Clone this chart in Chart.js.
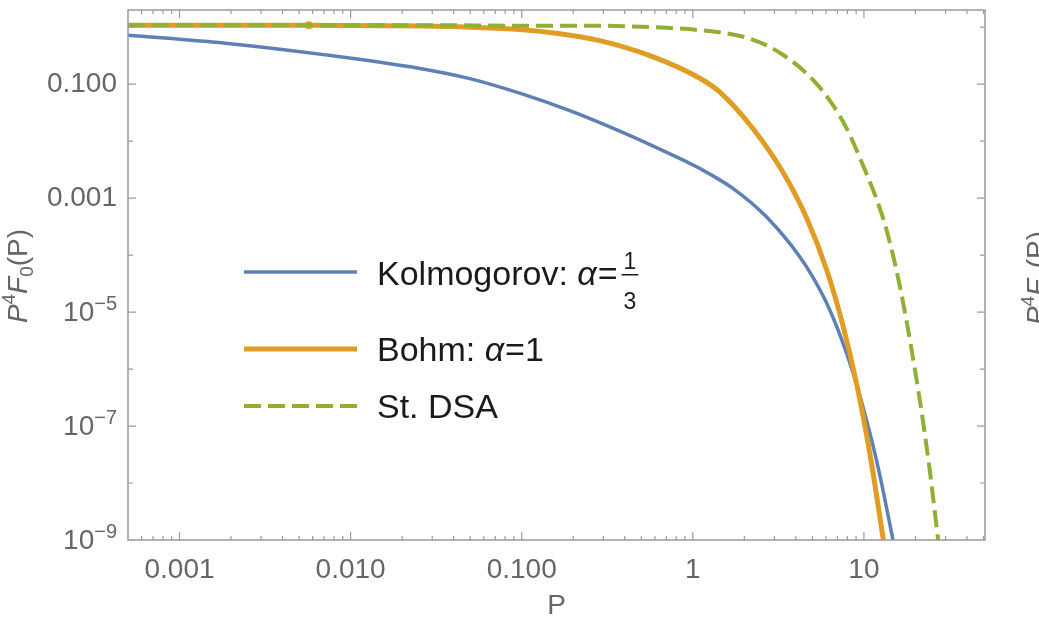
<!DOCTYPE html>
<html>
<head>
<meta charset="utf-8">
<script src="https://cdn.jsdelivr.net/npm/chart.js@4.4.1/dist/chart.umd.min.js"></script>
<style>
  html, body { margin: 0; padding: 0; background: #fff; }
</style>
</head>
<body>
<canvas id="chart" width="1039" height="623"></canvas>
<script>
// values (P, P^4 F0(P))
var kolP  = [0.0005, 0.00191, 0.00733, 0.0254, 0.0497, 0.0973, 0.191, 0.374, 0.641, 1.099, 1.714, 2.709, 4.225, 5.03, 6.08, 7.24, 8.63, 10.28, 12.25, 14.79];
var kolF  = [0.724, 0.518, 0.323, 0.188, 0.125, 0.0695, 0.0343, 0.015, 0.00724, 0.0033, 0.00148, 4.6e-4, 9.29e-5, 4.11e-5, 1.4e-5, 3.98e-6, 8.69e-7, 1.38e-7, 1.6e-8, 1e-9];

var bohmP = [0.0005, 0.00503, 0.0057, 0.0254, 0.0497, 0.0973, 0.167, 0.286, 0.561, 1.099, 1.439, 2.243, 3.357, 4.645, 6.08, 7.53, 9.1, 10.84, 13.0];
var bohmF = [1.084, 1.084, 1.084, 1.05, 1.0, 0.912, 0.769, 0.58, 0.316, 0.127, 0.0724, 0.0167, 0.00288, 4.36e-4, 5.32e-5, 5.91e-6, 5.2e-7, 3.23e-8, 1e-9];

var dsaP  = [0.0005, 0.0254, 0.0973, 0.286, 0.446, 0.705, 1.099, 1.714, 2.153, 2.709, 3.357, 4.225, 5.309, 6.592, 7.96, 10.14, 11.91, 13.66, 16.56, 21.12, 23.99, 27.16];
var dsaF  = [1.084, 1.084, 1.062, 1.062, 1.028, 0.972, 0.885, 0.745, 0.628, 0.478, 0.328, 0.196, 0.1, 0.0428, 0.0163, 0.0031, 9.23e-4, 2.54e-4, 2.07e-5, 3.1e-7, 2.15e-8, 1e-9];

var xTickExp  = [-3, -2, -1, 0, 1];
var xTickText = ['0.001', '0.010', '0.100', '1', '10'];
var yTickExp  = [-1, -3, -5, -7, -9];
var yTickText = ['0.100', '0.001', '', '', ''];
var yTickPow  = ['', '', '\u22125', '\u22127', '\u22129'];

var FONT = '"Liberation Sans", Arial, sans-serif';
var GRAY = '#666';

function pairs(xs, ys) {
  return xs.map(function (v, i) { return { x: v, y: ys[i] }; });
}
function decade(v) {
  var e = Math.log10(v), r = Math.round(e);
  return Math.abs(e - r) < 1e-6 ? r : null;
}
function mantissa(v) {
  var m = v / Math.pow(10, Math.floor(Math.log10(v) + 1e-9));
  return Math.abs(m - Math.round(m)) < 1e-6 ? Math.round(m) : null;
}

function drawRuns(ctx, x, y, runs) {
  runs.forEach(function (r) {
    ctx.font = (r.italic ? 'italic ' : '') + r.size + 'px ' + FONT;
    ctx.fillText(r.t, x, y + (r.dy || 0));
    x += ctx.measureText(r.t).width + (r.gap || 0);
  });
  return x;
}
function runsWidth(ctx, runs) {
  var w = 0;
  runs.forEach(function (r) {
    ctx.font = (r.italic ? 'italic ' : '') + r.size + 'px ' + FONT;
    w += ctx.measureText(r.t).width + (r.gap || 0);
  });
  return w;
}

// frame with inward ticks on all four sides, plus the 10^n labels
var frameTicks = {
  id: 'frameTicks',
  afterDatasetsDraw: function (chart) {
    var ctx = chart.ctx, a = chart.chartArea, x = chart.scales.x, y = chart.scales.y;
    ctx.save();
    ctx.strokeStyle = '#9a9a9a';
    ctx.lineWidth = 1.5;
    ctx.strokeRect(a.left, a.top, a.right - a.left, a.bottom - a.top);
    ctx.lineWidth = 1.2;
    ctx.beginPath();
    x.ticks.forEach(function (t) {
      var m = mantissa(t.value);
      if (m === null) return;
      var px = x.getPixelForValue(t.value);
      if (px < a.left + 1 || px > a.right - 1) return;
      var len = m === 1 ? 8 : 4;
      ctx.moveTo(px, a.bottom); ctx.lineTo(px, a.bottom - len);
      ctx.moveTo(px, a.top); ctx.lineTo(px, a.top + len);
    });
    y.ticks.forEach(function (t) {
      var e = decade(t.value);
      if (e === null) return;
      var py = y.getPixelForValue(t.value);
      if (py < a.top + 1 || py > a.bottom - 1) return;
      var len = yTickExp.indexOf(e) >= 0 ? 8 : 5;
      ctx.moveTo(a.left, py); ctx.lineTo(a.left + len, py);
      ctx.moveTo(a.right, py); ctx.lineTo(a.right - len, py);
    });
    ctx.stroke();

    // labels of the form 10^n
    ctx.fillStyle = GRAY;
    ctx.textBaseline = 'middle';
    ctx.textAlign = 'left';
    yTickExp.forEach(function (e, i) {
      if (!yTickPow[i]) return;
      var py = y.getPixelForValue(Math.pow(10, e));
      var runs = [{ t: '10', size: 28 }, { t: yTickPow[i], size: 20, dy: -9 }];
      var w = runsWidth(ctx, runs);
      drawRuns(ctx, a.left - 11 - w, py + 1, runs);
    });
    ctx.restore();
  }
};

// legend inside the plot, y-axis title, neighbour panel title
var legendBox = {
  id: 'legendBox',
  afterDraw: function (chart) {
    var ctx = chart.ctx, ds = chart.data.datasets;
    ctx.save();
    ctx.textBaseline = 'alphabetic';
    ctx.textAlign = 'left';

    var rows = [
      { i: 0, ly: 272 },
      { i: 1, ly: 349 },
      { i: 2, ly: 406 }
    ];
    rows.forEach(function (r) {
      var d = ds[r.i];
      ctx.strokeStyle = d.borderColor;
      ctx.lineWidth = d.borderWidth;
      ctx.setLineDash(d.borderDash || []);
      ctx.beginPath();
      ctx.moveTo(244, r.ly);
      ctx.lineTo(357, r.ly);
      ctx.stroke();
    });
    ctx.setLineDash([]);
    ctx.fillStyle = '#1a1a1a';

    var fx = drawRuns(ctx, 377, 285, [
      { t: 'Kolmogorov: ', size: 34 },
      { t: '\u03B1', size: 34, italic: true, gap: 1 },
      { t: '=', size: 34, gap: 4 }
    ]);
    ctx.font = '23px ' + FONT;
    var fw = ctx.measureText('3').width + 4;
    ctx.textAlign = 'center';
    ctx.fillText('1', fx + fw / 2, 269);
    ctx.fillText('3', fx + fw / 2, 309);
    ctx.fillRect(fx, 274, fw, 1.5);
    ctx.textAlign = 'left';

    drawRuns(ctx, 377, 361, [
      { t: 'Bohm: ', size: 34 },
      { t: '\u03B1', size: 34, italic: true, gap: 1 },
      { t: '=1', size: 34 }
    ]);
    drawRuns(ctx, 377, 418, [{ t: 'St. DSA', size: 34 }]);

    // rotated axis titles
    var title = [
      { t: 'P', size: 28, italic: true },
      { t: '4', size: 19, dy: -12 },
      { t: 'F', size: 28, italic: true },
      { t: '0', size: 19, dy: 6 },
      { t: '(P)', size: 28 }
    ];
    var tw = runsWidth(ctx, title);
    ctx.fillStyle = GRAY;
    [[27, 276], [1046, 278]].forEach(function (p) {
      ctx.save();
      ctx.translate(p[0], p[1]);
      ctx.rotate(-Math.PI / 2);
      drawRuns(ctx, -tw / 2, 0, title);
      ctx.restore();
    });
    ctx.restore();
  }
};

new Chart(document.getElementById('chart'), {
  type: 'line',
  data: {
    datasets: [
      {
        label: 'Kolmogorov: \u03B1=1/3',
        data: pairs(kolP, kolF),
        borderColor: '#5E81B5',
        borderWidth: 3.5,
        pointRadius: 0,
        order: 2
      },
      {
        label: 'Bohm: \u03B1=1',
        data: pairs(bohmP, bohmF),
        borderColor: '#E19C24',
        borderWidth: 5,
        pointRadius: bohmP.map(function (p) { return p === 0.0057 ? 4 : 0; }),
        pointBackgroundColor: '#E19C24',
        pointBorderWidth: 0,
        order: 1
      },
      {
        label: 'St. DSA',
        data: pairs(dsaP, dsaF),
        borderColor: '#8FB032',
        borderWidth: 4,
        borderDash: [17, 7],
        pointRadius: 0,
        order: 0
      }
    ]
  },
  options: {
    responsive: false,
    animation: false,
    layout: { padding: { top: 10, right: 54, left: 0, bottom: 0 } },
    elements: {
      line: { cubicInterpolationMode: 'monotone', fill: false, borderCapStyle: 'butt' }
    },
    plugins: {
      legend: { display: false },
      tooltip: { enabled: false }
    },
    scales: {
      x: {
        type: 'logarithmic',
        min: 0.0005,
        max: 51,
        grid: { display: false, drawTicks: false },
        border: { display: false },
        ticks: {
          autoSkip: false,
          maxRotation: 0,
          padding: 13,
          color: GRAY,
          font: { family: FONT, size: 28 },
          callback: function (v) {
            var k = xTickExp.indexOf(decade(v));
            return k >= 0 ? xTickText[k] : '';
          }
        },
        title: {
          display: true,
          text: 'P',
          color: GRAY,
          font: { family: FONT, size: 28 },
          padding: { top: 0, bottom: 0 }
        },
        afterFit: function (s) {
          s.height = 83;
          s.paddingLeft = 0;
          s.paddingRight = 0;
        }
      },
      y: {
        type: 'logarithmic',
        min: 1e-9,
        max: 2,
        grid: { display: false, drawTicks: false },
        border: { display: false },
        ticks: {
          autoSkip: false,
          padding: 11,
          color: GRAY,
          font: { family: FONT, size: 28 },
          callback: function (v) {
            var k = yTickExp.indexOf(decade(v));
            return k >= 0 ? yTickText[k] : '';
          }
        },
        afterFit: function (s) {
          s.width = 128;
          s.paddingTop = 0;
          s.paddingBottom = 0;
        }
      }
    }
  },
  plugins: [frameTicks, legendBox]
});
</script>
</body>
</html>
